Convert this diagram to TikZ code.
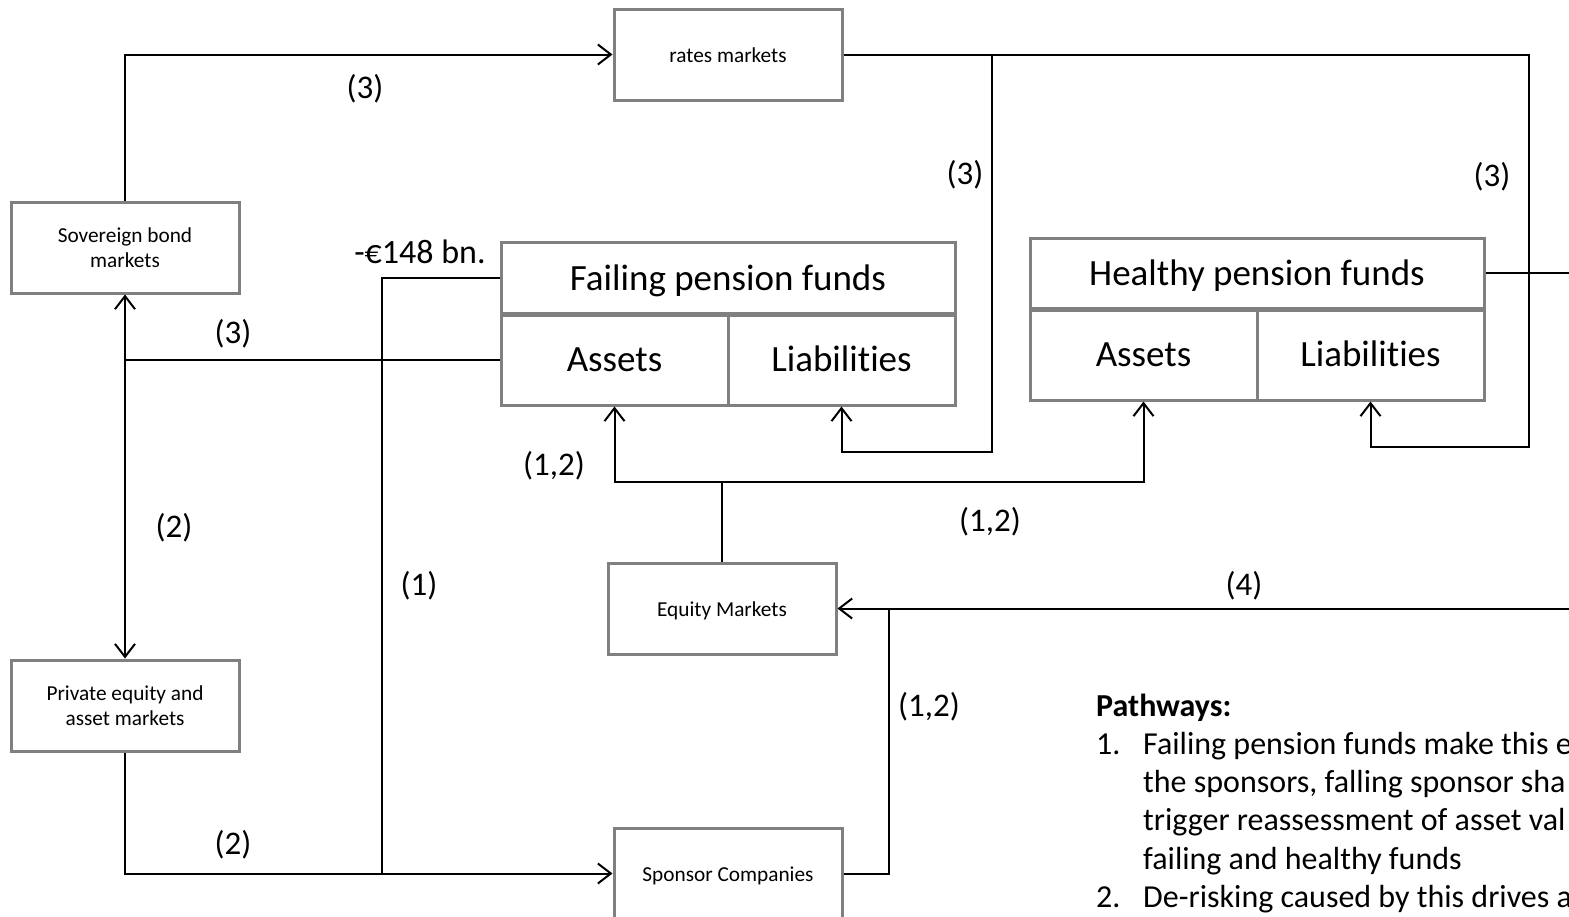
\documentclass[tikz,border=0pt]{standalone}
\usepackage{fontspec}
\setmainfont{Carlito}[Ligatures=NoCommon]
\usetikzlibrary{arrows.meta}
\newcommand{\lowr}[2]{\raisebox{-#1pt}[0pt][0pt]{#2}}
\begin{document}
\begin{tikzpicture}[x=1pt,y=-1pt,
  box/.style={draw=gray,line width=3pt,fill=white,inner sep=0pt,align=center,font=\fontsize{21.3}{25.5}\selectfont},
  bigbox/.style={draw=gray,line width=3pt,fill=white,inner sep=0pt,align=center,font=\fontsize{37}{44}\selectfont},
  conn/.style={line width=2pt,black},
  arr/.style={conn,-{Straight Barb[length=13pt,width=20pt,line width=2pt]}},
  lbl/.style={font=\fontsize{33}{40}\selectfont,inner sep=0pt},
  ptext/.style={font=\fontsize{32}{38}\selectfont,inner sep=0pt,anchor=base west}]
\useasboundingbox (0,0) rectangle (1569,916);
\clip (0,0) rectangle (1569,916);
% boxes
\node[box,minimum width=228pt,minimum height=91pt] (rates) at (728,54.5) {\lowr{7.5}{rates markets}};
\node[box,minimum width=228pt,minimum height=91pt] (sov) at (125,247.5) {Sovereign bond\\markets};
\node[box,minimum width=228pt,minimum height=91pt] (priv) at (125,705.5) {Private equity and\\asset markets};
\node[box,minimum width=228pt,minimum height=91pt] (eq) at (722,608.5) {\lowr{8}{Equity Markets}};
\node[box,minimum width=228pt,minimum height=91pt] (spon) at (728,873.5) {\lowr{8}{Sponsor Companies}};
\node[bigbox,minimum width=454pt,minimum height=71pt] (ftitle) at (728,277.5) {\lowr{12.5}{Failing pension funds}};
\node[bigbox,minimum width=227pt,minimum height=90pt] (fassets) at (614.5,360) {\lowr{11}{Assets}};
\node[bigbox,minimum width=227pt,minimum height=90pt] (fliab) at (841.5,360) {\lowr{11}{Liabilities}};
\node[bigbox,minimum width=454pt,minimum height=70pt] (htitle) at (1257,273) {\lowr{12.5}{Healthy pension funds}};
\node[bigbox,minimum width=227pt,minimum height=90pt] (hassets) at (1143.5,355) {\lowr{11}{Assets}};
\node[bigbox,minimum width=227pt,minimum height=90pt] (hliab) at (1370.5,355) {\lowr{11}{Liabilities}};
% junction coordinates
\coordinate (j1) at (992,54.5);
\coordinate (j2) at (992,452);
\coordinate (j3) at (1529,54.5);
\coordinate (j4) at (1529,447);
\coordinate (e1) at (1580,273);
\coordinate (j5) at (125,360);
\coordinate (j6) at (382,873.5);
\coordinate (j7) at (722,482);
\coordinate (j8) at (889,608.5);
\coordinate (e2) at (1580,608.5);
% connectors
\draw[arr] (sov.north) |- (rates.west);
\draw[conn] (rates.east) -- (j1);
\draw[arr] (j1) -- (j2) -| (fliab.south);
\draw[arr] (j1) -- (j3) -- (j4) -| (hliab.south);
\draw[conn] (htitle.east) -- (e1);
\draw[conn] (fassets.west) -- (j5);
\draw[arr] (j5) -- (sov.south);
\draw[arr] (j5) -- (priv.north);
\draw[conn] (ftitle.west) -| (j6);
\draw[arr] (priv.south) |- (spon.west);
\draw[conn] (eq.north) -- (j7);
\draw[arr] (j7) -| (fassets.south);
\draw[arr] (j7) -| (hassets.south);
\draw[conn] (spon.east) -| (j8);
\draw[arr] (e2) -- (eq.east);
% labels
\node[lbl] (l1) at (365,89) {(3)};
\node[lbl] (l2) at (965,175) {(3)};
\node[lbl] (l3) at (1492,177) {(3)};
\node[lbl] (l4) at (233,334) {(3)};
\node[lbl] (l5) at (174,528) {(2)};
\node[lbl] (l6) at (419,586) {(1)};
\node[lbl] (l7) at (233,845) {(2)};
\node[lbl] (l8) at (554,466) {(1,2)};
\node[lbl] (l9) at (990,522) {(1,2)};
\node[lbl] (l10) at (929,707) {(1,2)};
\node[lbl] (l11) at (1244,586) {(4)};
\node[font=\fontsize{34}{40}\selectfont,inner sep=0pt] (eur) at (420,252) {-€148 bn.};
% pathways
\node[ptext,font=\fontsize{32}{38}\selectfont\bfseries] (pw) at (1096,716) {Pathways:};
\node[ptext] (n1) at (1096,754) {1.};
\node[ptext] (t1a) at (1143,754) {Failing pension funds make this e};
\node[ptext] (t1b) at (1143,792) {the sponsors, falling sponsor sha};
\node[ptext] (t1c) at (1143,830) {trigger reassessment of asset val};
\node[ptext] (t1d) at (1143,869) {failing and healthy funds};
\node[ptext] (n2) at (1096,907) {2.};
\node[ptext] (t2a) at (1143,907) {De-risking caused by this drives a};
\end{tikzpicture}
\end{document}
